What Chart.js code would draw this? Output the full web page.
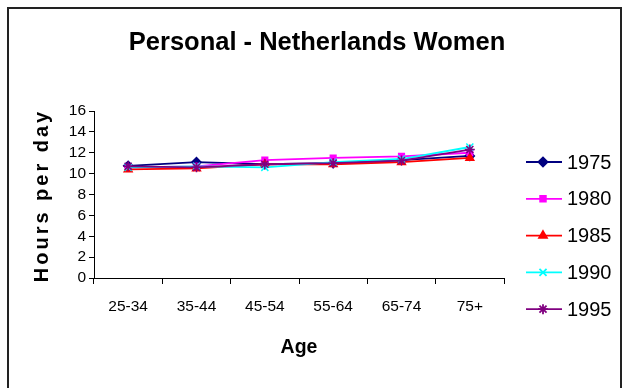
<!DOCTYPE html>
<html>
<head>
<meta charset="utf-8">
<script src="https://cdn.jsdelivr.net/npm/chart.js@4"></script>
<style>
  html, body { margin: 0; padding: 0; background: #fff; }
  #wrap { position: relative; width: 628px; height: 388px; }
  canvas { display: block; }
</style>
</head>
<body>
<div id="wrap"><canvas id="c" width="628" height="388"></canvas></div>
<script>
// Age groups on the x axis
const ageGroups = ['25-34', '35-44', '45-54', '55-64', '65-74', '75+'];
// Survey years (one line each)
const years = ['1975', '1980', '1985', '1990', '1995'];
// Hours per day spent on personal care, by age group
const hours1975 = [10.75, 11.1, 10.9, 11.0, 11.3, 11.7];
const hours1980 = [10.6, 10.7, 11.3, 11.5, 11.65, 12.0];
const hours1985 = [10.4, 10.5, 10.9, 10.9, 11.1, 11.5];
const hours1990 = [10.6, 10.7, 10.6, 11.1, 11.4, 12.55];
const hours1995 = [10.7, 10.6, 10.9, 11.0, 11.25, 12.3];
// Y axis range
const yMin = 0, yMax = 16, yStep = 2;

const FONT = '"Liberation Sans", Arial, Helvetica, sans-serif';
const series = [hours1975, hours1980, hours1985, hours1990, hours1995];
const colors = ['#000080', '#FF00FF', '#FF0000', '#00FFFF', '#800080'];
const markers = ['rectRot', 'rect', 'triangle', 'crossRot', 'star'];
const radii = [4.5, 4, 4.5, 5, 5];

const datasets = years.map((y, i) => ({
  label: y,
  data: series[i],
  borderColor: colors[i],
  backgroundColor: colors[i],
  pointBackgroundColor: colors[i],
  pointBorderColor: colors[i],
  pointStyle: markers[i],
  pointRadius: radii[i],
  pointBorderWidth: 1.5,
  borderWidth: 1.8,
  tension: 0,
  order: years.length - i
}));

// Frame, heading, y title and side legend
const decorations = {
  id: 'decorations',
  beforeDraw(chart) {
    const ctx = chart.ctx;
    ctx.save();
    ctx.fillStyle = '#fff';
    ctx.fillRect(0, 0, chart.width, chart.height);
    ctx.strokeStyle = '#222';
    ctx.lineWidth = 2;
    ctx.strokeRect(8, 8, 613, 420);
    ctx.restore();
  },
  afterDraw(chart) {
    const ctx = chart.ctx;
    const area = chart.chartArea;
    ctx.save();
    // heading
    ctx.fillStyle = '#000';
    ctx.font = 'bold 25.5px ' + FONT;
    ctx.textAlign = 'center';
    ctx.textBaseline = 'middle';
    ctx.fillText('Personal - Netherlands Women', 317, 43);
    // y axis title
    ctx.save();
    ctx.translate(42, (area.top + area.bottom) / 2 + 1);
    ctx.rotate(-Math.PI / 2);
    ctx.font = 'bold 20px ' + FONT;
    ctx.letterSpacing = '3px';
    ctx.fillText('Hours per day', 0, 0);
    ctx.restore();
    // legend
    ctx.font = '20px ' + FONT;
    ctx.textAlign = 'left';
    chart.data.datasets.forEach((ds, i) => {
      const y = 162 + i * 36.8;
      ctx.strokeStyle = ds.borderColor;
      ctx.lineWidth = 1.8;
      ctx.beginPath();
      ctx.moveTo(526, y);
      ctx.lineTo(562, y);
      ctx.stroke();
      ctx.fillStyle = ds.pointBackgroundColor;
      ctx.strokeStyle = ds.pointBorderColor;
      Chart.helpers.drawPoint(ctx, {
        pointStyle: ds.pointStyle,
        radius: ds.pointRadius,
        borderWidth: 1.5,
        rotation: 0
      }, 543, y);
      ctx.fillStyle = '#000';
      ctx.fillText(ds.label, 567, y + 1);
    });
    ctx.restore();
  }
};

new Chart(document.getElementById('c'), {
  type: 'line',
  data: { labels: ageGroups, datasets },
  options: {
    responsive: false,
    animation: false,
    events: [],
    layout: { padding: { left: 0, top: 111, right: 124, bottom: 0 } },
    plugins: { legend: { display: false }, tooltip: { enabled: false }, title: { display: false } },
    scales: {
      x: {
        offset: true,
        grid: { offset: true, drawOnChartArea: false, tickLength: 6, color: '#000', lineWidth: 1 },
        border: { color: '#000', width: 1 },
        ticks: { color: '#000', font: { family: FONT, size: 15.5 }, padding: 13, maxRotation: 0, autoSkip: false },
        title: { display: true, text: 'Age', color: '#000', font: { family: FONT, size: 19.5, weight: 'bold' }, padding: { top: 0, bottom: 29 } },
        afterFit(s) { s.height = 110; }
      },
      y: {
        min: yMin, max: yMax,
        ticks: { stepSize: yStep, color: '#000', font: { family: FONT, size: 15.5 }, padding: 3, autoSkip: false },
        grid: { drawOnChartArea: false, tickLength: 5, color: '#000', lineWidth: 1 },
        border: { color: '#000', width: 1 },
        afterFit(s) { s.width = 94; }
      }
    }
  },
  plugins: [decorations]
});
</script>
</body>
</html>
